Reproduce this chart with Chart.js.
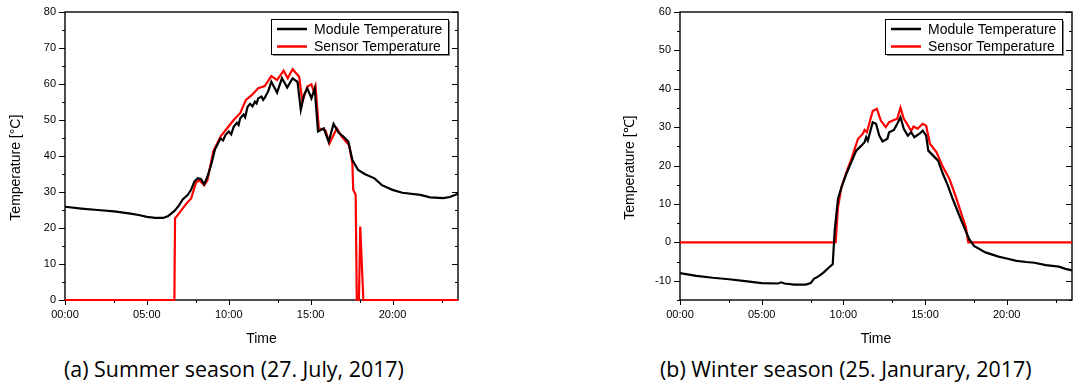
<!DOCTYPE html>
<html>
<head>
<meta charset="utf-8">
<script src="https://cdn.jsdelivr.net/npm/chart.js@4.4.1/dist/chart.umd.min.js"></script>
<style>
  body { margin: 0; background: #fff; width: 1074px; height: 386px; position: relative; overflow: hidden; }
  .box { position: absolute; top: 0; height: 350px; }
  #summerBox { left: 0; width: 470px; }
  #winterBox { left: 600px; width: 474px; }
  .caption { position: absolute; top: 354px; font-family: "Open Sans", sans-serif; font-size: 21.4px; white-space: nowrap; color: #000; }
</style>
</head>
<body>
<div class="box" id="summerBox"><canvas id="summer"></canvas></div>
<div class="box" id="winterBox"><canvas id="winter"></canvas></div>
<div class="caption" style="left:64px">(a) Summer season (27. July, 2017)</div>
<div class="caption" style="left:660px">(b) Winter season (25. Janurary, 2017)</div>
<script>
// time axis (hours)
const timeTicks = [0, 5, 10, 15, 20];
const timeMinor = [3, 8, 13, 18, 23];

// summer, 27 July 2017
const summerYTicks = [0, 10, 20, 30, 40, 50, 60, 70, 80];
const summerModuleTime = [0, 1, 2, 3, 4, 4.5, 5, 5.5, 6, 6.3, 6.7, 6.95, 7.2, 7.5, 7.7, 7.9, 8.1, 8.3, 8.5, 8.7, 8.95, 9.15, 9.5, 9.65, 9.8, 10, 10.15, 10.3, 10.5, 10.6, 10.7, 10.9, 11.0, 11.15, 11.3, 11.45, 11.6, 11.7, 11.8, 12, 12.1, 12.2, 12.4, 12.6, 12.95, 13.25, 13.57, 13.9, 14.2, 14.4, 14.6, 14.8, 15.05, 15.25, 15.45, 15.8, 16.1, 16.4, 16.7, 17, 17.3, 17.55, 17.9, 18.3, 18.9, 19.35, 20, 20.6, 21.7, 22.3, 23.1, 23.5, 24];
const summerModule = [25.9, 25.4, 25.0, 24.6, 24.0, 23.6, 23.1, 22.8, 22.8, 23.3, 24.8, 26.2, 28.0, 29.2, 30.6, 32.9, 33.8, 33.6, 32.1, 34.3, 38.0, 41.7, 44.9, 44.3, 45.8, 46.8, 46.0, 48.1, 49.2, 48.6, 50.5, 51.5, 50.8, 53.7, 54.5, 53.8, 55.1, 54.6, 56.0, 56.5, 55.6, 56.2, 57.9, 60.6, 57.6, 61.6, 59.0, 61.6, 60.6, 52.8, 57.0, 58.8, 56.0, 58.8, 46.8, 47.7, 44.0, 48.9, 46.5, 45.4, 44.0, 38.9, 36.1, 35.0, 33.8, 31.9, 30.6, 29.8, 29.2, 28.5, 28.3, 28.6, 29.5];
const summerSensorTime = [0, 6.68, 6.72, 6.95, 7.4, 7.7, 8.0, 8.2, 8.5, 8.7, 9.05, 9.5, 9.9, 10.3, 10.7, 11.05, 11.4, 11.8, 12.2, 12.6, 12.95, 13.35, 13.6, 13.9, 14.3, 14.5, 14.8, 15.05, 15.2, 15.3, 15.5, 15.9, 16.15, 16.6, 16.9, 17.35, 17.55, 17.6, 17.75, 17.82, 17.95, 18.03, 18.22, 24];
const summerSensor = [0, 0, 22.7, 24.0, 26.7, 28.2, 32.6, 33.3, 31.9, 33.3, 41.2, 45.4, 47.7, 50.0, 51.9, 55.6, 56.9, 58.8, 59.4, 62.2, 61.1, 63.7, 61.6, 64.1, 62.0, 55.1, 59.3, 59.9, 57.9, 59.4, 47.7, 47.2, 43.5, 47.7, 45.4, 43.0, 38.0, 30.6, 29.2, 0, 0, 20.4, 0, 0];

// winter, 25 January 2017
const winterYTicks = [-10, 0, 10, 20, 30, 40, 50, 60];
const winterModuleTime = [0, 1, 2, 3, 4, 5, 6, 6.2, 6.4, 7, 7.7, 8, 8.2, 8.5, 8.8, 9.1, 9.35, 9.47, 9.67, 9.88, 10.18, 10.49, 10.79, 11.1, 11.3, 11.4, 11.5, 11.8, 12, 12.2, 12.4, 12.7, 12.8, 13.1, 13.3, 13.5, 13.7, 13.95, 14.15, 14.35, 14.66, 14.86, 15.07, 15.2, 15.5, 15.8, 16.1, 16.4, 16.7, 17.1, 17.4, 17.7, 18, 18.7, 19.5, 20, 20.6, 21.2, 21.7, 22.4, 23.2, 23.6, 24];
const winterModule = [-8.0, -8.7, -9.2, -9.6, -10.1, -10.6, -10.7, -10.4, -10.7, -11.0, -11.0, -10.6, -9.5, -8.8, -7.8, -6.6, -5.7, 3.0, 11.3, 14.3, 17.8, 20.9, 23.9, 25.2, 26.1, 27.4, 26.5, 31.3, 30.9, 27.8, 26.3, 27.0, 28.7, 29.3, 30.9, 32.6, 29.6, 27.8, 28.7, 27.4, 28.3, 29.1, 27.8, 23.9, 22.6, 21.3, 17.8, 14.8, 11.3, 7.0, 3.9, 0.9, -0.9, -2.6, -3.7, -4.2, -4.8, -5.1, -5.3, -5.9, -6.3, -6.9, -7.3];
const winterSensorTime = [0, 9.53, 9.67, 9.88, 10.18, 10.49, 10.9, 11.2, 11.3, 11.44, 11.8, 12.05, 12.3, 12.6, 12.8, 13.1, 13.3, 13.5, 13.7, 13.9, 14.15, 14.3, 14.55, 14.86, 15.07, 15.3, 15.7, 16.1, 16.5, 16.9, 17.3, 17.5, 17.65, 24];
const winterSensor = [0, 0, 9.1, 14.3, 18.2, 21.7, 27.0, 28.3, 29.3, 28.7, 34.2, 34.8, 31.7, 30.0, 31.3, 31.9, 32.2, 35.1, 32.2, 30.9, 29.0, 30.2, 29.6, 30.9, 30.4, 25.7, 23.5, 19.6, 16.5, 11.7, 6.5, 4.0, 0, 0];

const seriesNames = ['Module Temperature', 'Sensor Temperature'];
const seriesColors = ['#000000', '#ff0000'];

const axisFont = 'Liberation Sans, Arial, sans-serif';

function points(t, v) {
  return t.map((x, i) => ({x: x, y: v[i]}));
}

// box frame with Origin style tick marks (out on left/bottom, in on right)
const frame = {
  id: 'frame',
  beforeDatasetsDraw(chart) {
    const {ctx, chartArea: a, scales: {x, y}} = chart;
    ctx.save();
    ctx.strokeStyle = '#000';
    ctx.lineWidth = 1.4;
    ctx.strokeRect(a.left, a.top, a.right - a.left, a.bottom - a.top);
    ctx.lineWidth = 1;
    ctx.beginPath();
    for (let v = y.min; v <= y.max; v += 5) {
      const py = Math.round(y.getPixelForValue(v)) + 0.5;
      const len = (v % 10 === 0) ? 6 : 3;
      ctx.moveTo(a.left - len, py); ctx.lineTo(a.left, py);
      ctx.moveTo(a.right, py); ctx.lineTo(a.right - len, py);
    }
    timeTicks.forEach(v => {
      const px = Math.round(x.getPixelForValue(v)) + 0.5;
      ctx.moveTo(px, a.bottom); ctx.lineTo(px, a.bottom + 5);
    });
    timeMinor.forEach(v => {
      const px = Math.round(x.getPixelForValue(v)) + 0.5;
      ctx.moveTo(px, a.bottom); ctx.lineTo(px, a.bottom + 3);
    });
    ctx.stroke();
    ctx.restore();
  },
  // legend box in the upper right corner
  afterDraw(chart) {
    const {ctx, chartArea: a} = chart;
    const w = 177, h = 35;
    const bx = a.right - 10 - w, by = a.top + 7;
    ctx.save();
    ctx.fillStyle = '#888';
    ctx.fillRect(bx + 2, by + 2, w, h);
    ctx.fillStyle = '#fff';
    ctx.fillRect(bx, by, w, h);
    ctx.strokeStyle = '#000';
    ctx.lineWidth = 1;
    ctx.strokeRect(bx + 0.5, by + 0.5, w, h);
    ctx.font = '14px ' + axisFont;
    ctx.textBaseline = 'middle';
    chart.data.datasets.forEach((ds, i) => {
      const ly = by + 10 + i * 17.5;
      ctx.strokeStyle = ds.borderColor;
      ctx.lineWidth = 2.5;
      ctx.beginPath();
      ctx.moveTo(bx + 6, ly); ctx.lineTo(bx + 36, ly);
      ctx.stroke();
      ctx.fillStyle = '#000';
      ctx.fillText(ds.label, bx + 43, ly + 1);
    });
    ctx.restore();
  }
};

function makeChart(id, module, sensor, yMin, yMax, yTicks, yTitle, yWidth, titlePad) {
  return new Chart(document.getElementById(id), {
    type: 'line',
    data: {
      datasets: [
        {label: seriesNames[0], data: module, borderColor: seriesColors[0], borderWidth: 2.2, pointRadius: 0, tension: 0, clip: 4},
        {label: seriesNames[1], data: sensor, borderColor: seriesColors[1], borderWidth: 2.2, pointRadius: 0, tension: 0, clip: 4}
      ]
    },
    options: {
      responsive: true,
      maintainAspectRatio: false,
      animation: false,
      events: [],
      layout: {padding: {top: 12, right: id === 'summer' ? 12 : 2, left: 0, bottom: 0}},
      plugins: {legend: {display: false}, tooltip: {enabled: false}},
      scales: {
        x: {
          type: 'linear', min: 0, max: 24,
          afterBuildTicks: s => { s.ticks = timeTicks.map(v => ({value: v})); },
          afterFit: s => { s.height = 50; },
          grid: {display: false, drawTicks: true, tickLength: 5},
          border: {display: false},
          ticks: {
            padding: 3, autoSkip: false, maxRotation: 0, color: '#000',
            font: {family: axisFont, size: 11},
            callback: v => String(v).padStart(2, '0') + ':00'
          },
          title: {display: true, text: 'Time', color: '#000', font: {family: axisFont, size: 14}, padding: {top: 0, bottom: 2}}
        },
        y: {
          type: 'linear', min: yMin, max: yMax,
          afterBuildTicks: s => { s.ticks = yTicks.map(v => ({value: v})); },
          afterFit: s => { s.width = yWidth; },
          grid: {display: false, drawTicks: true, tickLength: 6},
          border: {display: false},
          ticks: {padding: 3, autoSkip: false, color: '#000', font: {family: axisFont, size: 11}},
          // trailing spaces push the rotated title a little lower, as in the original
          title: {display: true, text: yTitle + '      ', color: '#000', font: {family: axisFont, size: 14}, padding: {top: titlePad, bottom: 0}}
        }
      }
    },
    plugins: [frame]
  });
}

makeChart('summer', points(summerModuleTime, summerModule), points(summerSensorTime, summerSensor),
  0, 80, summerYTicks, 'Temperature [°C]', 65, 8);
makeChart('winter', points(winterModuleTime, winterModule), points(winterSensorTime, winterSensor),
  -15, 60, winterYTicks, 'Temperature [\u2103]', 80, 22);
</script>
</body>
</html>
